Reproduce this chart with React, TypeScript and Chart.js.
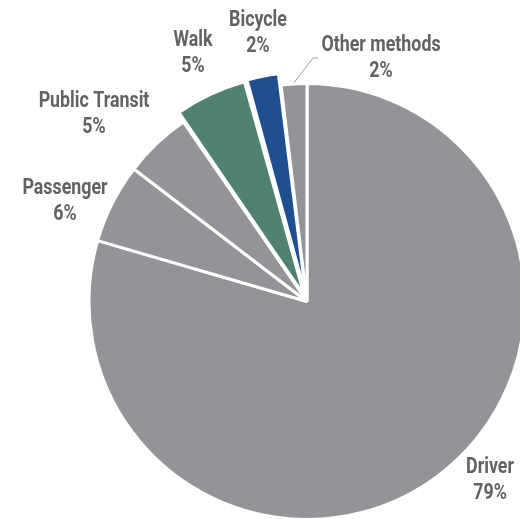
import React, { useEffect, useRef } from "react";
import { Chart, registerables } from "chart.js";

Chart.register(...registerables);

const categories = ["Driver", "Passenger", "Public Transit", "Walk", "Bicycle", "Other methods"];
const shares = [79.5, 5.9, 5.0, 5.3, 2.4, 1.9];
const shareLabels = ["79%", "6%", "5%", "5%", "2%", "2%"];
const explodedFlags = [false, false, false, true, true, false];

const GRAY = "#939498";
const GREEN = "#518271";
const BLUE = "#1f4f8e";
const sliceColors = [GRAY, GRAY, GRAY, GREEN, BLUE, GRAY];

// label anchor (centre of first line), in canvas pixels
const labelAnchors: [number, number][] = [
  [490, 467],
  [65, 188],
  [94, 101],
  [193, 40],
  [258, 20],
  [381, 45],
];

const labelPlugin = {
  id: "sliceLabels",
  afterDatasetsDraw(chart: any) {
    const ctx = chart.ctx;
    ctx.save();
    ctx.fillStyle = "#626262";
    ctx.textAlign = "center";
    ctx.textBaseline = "middle";
    ctx.font = "bold 22px 'Liberation Sans Narrow', 'Roboto', sans-serif";
    const draw = (t: string, x: number, y: number) => {
      ctx.save();
      ctx.translate(x, y);
      ctx.scale(0.81, 1);
      ctx.fillText(t, 0, 0);
      ctx.restore();
    };
    categories.forEach((c, i) => {
      const [x, y] = labelAnchors[i];
      draw(c, x, y);
      draw(shareLabels[i], x, y + 26);
    });
    // leader line for Other methods
    const meta = chart.getDatasetMeta(0);
    const arc = meta.data[5];
    const mid = (arc.startAngle + arc.endAngle) / 2;
    const sx = arc.x + Math.cos(mid) * (arc.outerRadius + 1);
    const sy = arc.y + Math.sin(mid) * (arc.outerRadius + 1);
    ctx.strokeStyle = "#a0a0a0";
    ctx.lineWidth = 1;
    ctx.beginPath();
    ctx.moveTo(sx, sy);
    ctx.lineTo(313, 58);
    ctx.lineTo(318, 58);
    ctx.stroke();
    ctx.restore();
  },
};

export default function App() {
  const ref = useRef<HTMLCanvasElement | null>(null);
  useEffect(() => {
    if (!ref.current) return;
    const chart = new Chart(ref.current, {
      type: "pie",
      data: {
        labels: categories,
        datasets: [
          {
            data: shares,
            backgroundColor: sliceColors,
            borderColor: "#ffffff",
            borderWidth: 3,
            offset: explodedFlags.map((e) => (e ? 25 : 0)),
            hoverOffset: 0,
            clip: false as any,
          },
        ],
      },
      options: {
        responsive: false,
        animation: false,
        radius: 218,
        layout: { padding: { left: 94, right: 0, top: 84, bottom: 0 } },
        plugins: {
          legend: { display: false },
          tooltip: { enabled: false },
        },
      } as any,
      plugins: [labelPlugin],
    });
    return () => chart.destroy();
  }, []);
  return (
    <div style={{ position: "absolute", left: 0, top: 0, width: 520, height: 519 }}>
      <canvas ref={ref} width={520} height={519} style={{ display: "block" }} />
    </div>
  );
}
